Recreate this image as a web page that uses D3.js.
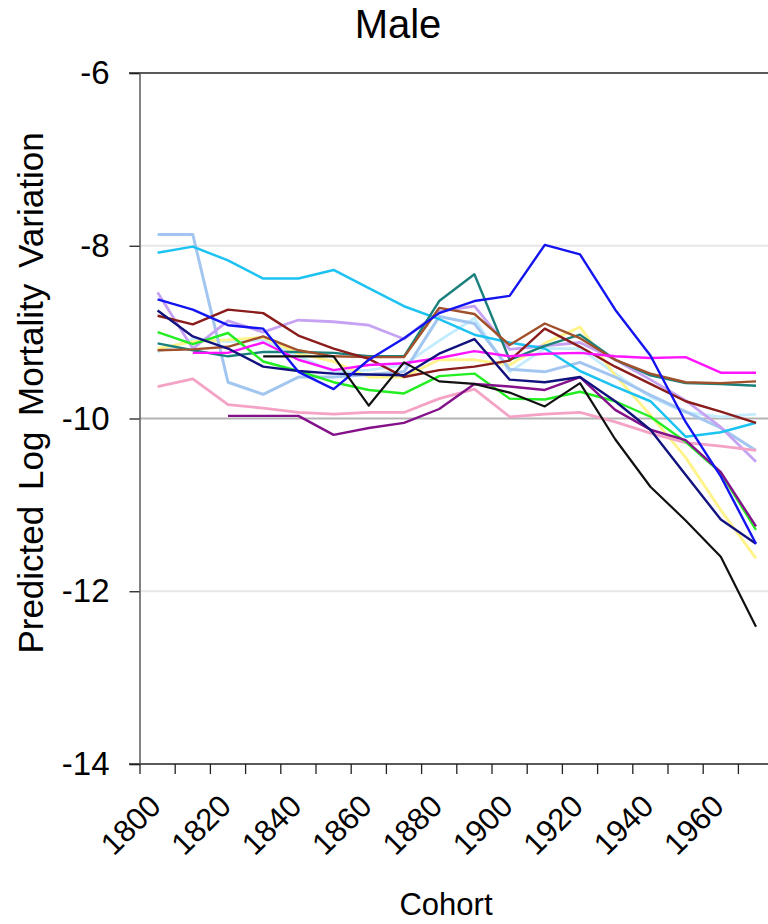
<!DOCTYPE html>
<html>
<head>
<meta charset="utf-8">
<script src="https://cdn.jsdelivr.net/npm/d3@7"></script>
<style>
  html, body { margin: 0; padding: 0; background: #fff; overflow: hidden; }
  svg { display: block; font-family: "Liberation Sans", Arial, Helvetica, sans-serif; }
</style>
</head>
<body>
<svg id="chart" width="768" height="924"></svg>
<script>
// Birth cohorts (x categories) and the cohorts that carry a label
const cohorts = [1800, 1810, 1820, 1830, 1840, 1850, 1860, 1870, 1880,
                 1890, 1900, 1910, 1920, 1930, 1940, 1950, 1960, 1970];
const cohortLabels = [1800, 1820, 1840, 1860, 1880, 1900, 1920, 1940, 1960];
const yTicks = [-6, -8, -10, -12, -14];

// Predicted log mortality variation, one series per population
const seriesDeepSky   = [-8.08, -8.01, -8.17, -8.38, -8.38, -8.28, -8.49, -8.70, -8.85, -9.03, -9.12, -9.19, -9.45, -9.63, -9.80, -10.21, -10.16, -10.05];
const seriesSteel     = [-7.87, -7.87, -9.58, -9.72, -9.52, -9.52, -9.49, -9.46, -8.82, -8.90, -9.43, -9.46, -9.35, -9.52, -9.73, -9.92, -10.11, -10.37];
const seriesBlue      = [-8.62, -8.74, -8.92, -8.96, -9.46, -9.66, -9.32, -9.07, -8.78, -8.64, -8.58, -7.99, -8.10, -8.74, -9.27, -10.04, -10.67, -11.45];
const seriesNavy      = [-8.75, -9.05, -9.19, -9.40, -9.45, -9.48, -9.49, -9.50, -9.25, -9.08, -9.55, -9.58, -9.52, -9.80, -10.13, -10.65, -11.17, -11.45];
const seriesDarkRed   = [-8.81, -8.91, -8.74, -8.78, -9.04, -9.19, -9.31, -9.52, -9.44, -9.40, -9.33, -8.96, -9.17, -9.40, -9.60, -9.80, -9.92, -10.05];
const seriesLavender  = [-8.54, -9.19, -8.87, -9.00, -8.86, -8.88, -8.92, -9.08, -8.76, -8.70, -9.20, -9.16, -9.12, -9.32, -9.55, -9.79, -10.10, -10.50];
const seriesGreen     = [-9.00, -9.14, -9.01, -9.34, -9.45, -9.58, -9.67, -9.71, -9.51, -9.48, -9.77, -9.78, -9.69, -9.80, -9.98, -10.27, -10.63, -11.29];
const seriesPurple    = [null, null, -9.97, -9.97, -9.97, -10.19, -10.11, -10.05, -9.89, -9.60, -9.63, -9.67, -9.52, -9.90, -10.13, -10.25, -10.62, -11.25];
const seriesTeal      = [-9.13, -9.21, -9.28, -9.23, -9.23, -9.24, -9.28, -9.28, -8.64, -8.33, -9.32, -9.16, -9.03, -9.32, -9.50, -9.59, -9.60, -9.62];
const seriesSienna    = [-9.21, -9.20, -9.17, -9.05, -9.21, -9.28, -9.29, -9.29, -8.72, -8.79, -9.15, -8.90, -9.07, -9.32, -9.48, -9.58, -9.59, -9.57];
const seriesYellow    = [-9.19, -9.11, -9.09, -9.06, -9.25, -9.34, -9.52, -9.52, -9.32, -9.32, -9.38, -9.13, -8.94, -9.50, -9.96, -10.45, -11.06, -11.62];
const seriesPaleCyan  = [-9.23, -9.08, -9.11, -9.09, -9.28, -9.46, -9.44, -9.38, -9.10, -8.84, -9.46, -9.19, -9.19, -9.48, -9.75, -9.93, -9.98, -9.95];
const seriesMagenta   = [null, -9.24, -9.24, -9.12, -9.32, -9.44, -9.38, -9.36, -9.30, -9.22, -9.28, -9.25, -9.24, -9.28, -9.30, -9.29, -9.47, -9.47];
const seriesPink      = [-9.63, -9.54, -9.84, -9.88, -9.93, -9.95, -9.93, -9.93, -9.77, -9.66, -9.98, -9.95, -9.93, -10.04, -10.17, -10.28, -10.32, -10.37];
const seriesBlack     = [null, null, null, -9.28, -9.28, -9.28, -9.85, -9.35, -9.57, -9.60, -9.70, -9.86, -9.59, -10.24, -10.79, -11.18, -11.60, -12.41];

const series = [
  { values: seriesPaleCyan,  color: "#c4ecff", width: 2.8 },
  { values: seriesYellow,    color: "#fff38a", width: 2.8 },
  { values: seriesSteel,     color: "#a3c6f0", width: 3.0 },
  { values: seriesLavender,  color: "#c6a2f2", width: 2.8 },
  { values: seriesPink,      color: "#f4a3c6", width: 2.8 },
  { values: seriesDeepSky,   color: "#1cc3f2", width: 2.5 },
  { values: seriesTeal,      color: "#1a807c", width: 2.4 },
  { values: seriesSienna,    color: "#a0502a", width: 2.4 },
  { values: seriesDarkRed,   color: "#8b1c1c", width: 2.4 },
  { values: seriesGreen,     color: "#22ee22", width: 2.4 },
  { values: seriesMagenta,   color: "#ff14ff", width: 2.4 },
  { values: seriesPurple,    color: "#84108a", width: 2.4 },
  { values: seriesNavy,      color: "#12127e", width: 2.4 },
  { values: seriesBlue,      color: "#1414f0", width: 2.4 },
  { values: seriesBlack,     color: "#111111", width: 2.2 }
];

const svg = d3.select("#chart");
const plotLeft = 140, plotTop = 73, plotBottom = 764;
const bandW = 35.2;

const x = d3.scaleBand()
  .domain(cohorts)
  .range([plotLeft, plotLeft + bandW * cohorts.length])
  .paddingInner(0).paddingOuter(0);
const xc = c => x(c) + x.bandwidth() / 2;

const y = d3.scaleLinear().domain([-14, -6]).range([plotBottom, plotTop]);

const axisColor = "#5a5a5a";

// Horizontal reference lines inside the plot
svg.append("g").selectAll("line")
  .data([-8, -10, -12])
  .join("line")
  .attr("x1", plotLeft).attr("x2", 768)
  .attr("y1", d => y(d)).attr("y2", d => y(d))
  .attr("stroke", d => d === -10 ? "#b4b4b4" : "#e6e6e6")
  .attr("stroke-width", 2);

// Frame lines at the top and bottom of the value range
svg.append("g").selectAll("line")
  .data([-6, -14])
  .join("line")
  .attr("x1", plotLeft - 11).attr("x2", 768)
  .attr("y1", d => y(d)).attr("y2", d => y(d))
  .attr("stroke", axisColor)
  .attr("stroke-width", 2);

// Y axis
const yAxis = d3.axisLeft(y).tickValues(yTicks).tickSize(10).tickPadding(20)
  .tickFormat(d => d3.format("d")(d).replace("\u2212", "-"));
const gy = svg.append("g").attr("transform", `translate(${plotLeft - 0.5},0)`).call(yAxis);
gy.select(".domain").attr("stroke", axisColor).attr("stroke-width", 1.5);
gy.selectAll(".tick line").attr("stroke", "#222").attr("stroke-width", 1.3);
gy.selectAll(".tick text")
  .attr("font-size", 33).attr("fill", "#000")
  .attr("font-family", "'Liberation Sans', Arial, sans-serif");

// X axis: tick marks sit on category boundaries, labels on category centres
svg.append("g").selectAll("line")
  .data(cohorts)
  .join("line")
  .attr("x1", d => x(d)).attr("x2", d => x(d))
  .attr("y1", plotBottom).attr("y2", plotBottom + 10)
  .attr("stroke", "#222").attr("stroke-width", 1.3);

svg.append("g").selectAll("text")
  .data(cohortLabels)
  .join("text")
  .attr("transform", d => `translate(${xc(d) + 5},${plotBottom + 44}) rotate(-45)`)
  .attr("text-anchor", "end")
  .attr("font-size", 31)
  .attr("fill", "#000")
  .text(d => d);

// Series lines
const line = d3.line()
  .defined(d => d.v != null)
  .x(d => xc(d.c))
  .y(d => y(d.v));

svg.append("g").selectAll("path")
  .data(series)
  .join("path")
  .attr("d", s => line(s.values.map((v, i) => ({ c: cohorts[i], v }))))
  .attr("fill", "none")
  .attr("stroke", s => s.color)
  .attr("stroke-width", s => s.width)
  .attr("stroke-linejoin", "round");

// Titles
svg.append("text")
  .attr("x", 398).attr("y", 38)
  .attr("text-anchor", "middle")
  .attr("font-size", 40)
  .text("Male");

svg.append("text")
  .attr("x", 446).attr("y", 915)
  .attr("text-anchor", "middle")
  .attr("font-size", 31)
  .text("Cohort");

svg.append("text")
  .attr("transform", "translate(43,393) rotate(-90)")
  .attr("text-anchor", "middle")
  .attr("font-size", 35)
  .attr("word-spacing", 6)
  .text("Predicted Log Mortality Variation");
</script>
</body>
</html>
